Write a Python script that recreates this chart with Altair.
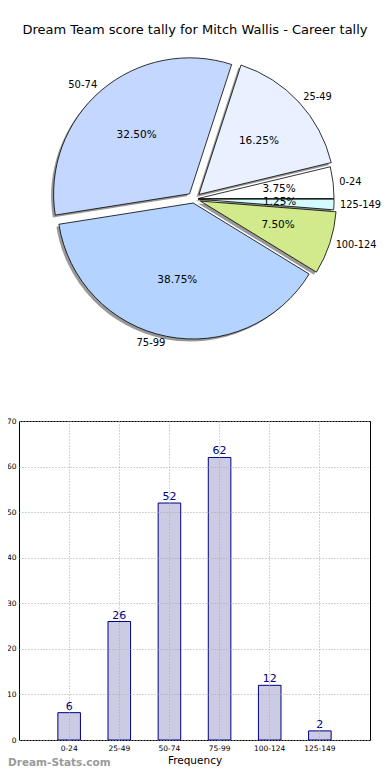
import altair as alt
import pandas as pd

# ---- data ----
categories = ["0-24", "25-49", "50-74", "75-99", "100-124", "125-149"]
counts = [6, 26, 52, 62, 12, 2]
pie_colors = ["#ffffff", "#e9f0ff", "#c4d7ff", "#b4d4ff", "#d0ea8c", "#d4fbff"]
explode = [0.03, 0.05, 0.05, 0.03, 0.05, 0.03]
y_ticks = [0, 10, 20, 30, 40, 50, 60, 70]
title_text = "Dream Team score tally for Mitch Wallis - Career tally"
x_title = "Frequency"
watermark = "Dream-Stats.com"

FONT = "DejaVu Sans"

pie_df = pd.DataFrame({
    "cat": categories,
    "n": counts,
    "color": pie_colors,
    "explode": explode,
    "order": list(range(len(categories))),
})

# pie geometry in pixels, relative to the bar plot's origin
CX, CY, R, RY = 175, -222, 136, 130
LBL_X, LBL_Y = 1.045 * R, 1.1 * RY

base = (
    alt.Chart(pie_df)
    .transform_joinaggregate(total="sum(n)")
    .transform_window(cum="sum(n)", sort=[alt.SortField("order")], frame=[None, 0])
    .transform_calculate(
        a1="360*(datum.cum-datum.n)/datum.total",
        a2="360*datum.cum/datum.total",
    )
    .transform_calculate(
        mid="(datum.a1+datum.a2)/2*PI/180",
        th="(90-datum.a2)*PI/180",
        th2="(90-datum.a1)*PI/180",
        pct="format(100*datum.n/datum.total, '.2f') + '%'",
    )
    .transform_calculate(
        cx=f"{CX}+datum.explode*{R}*cos(datum.mid)",
        cy=f"{CY}-datum.explode*{R}*sin(datum.mid)",
    )
    .transform_calculate(
        sx="datum.cx-2.5",
        sy="datum.cy+2.5",
        lx=f"datum.cx+{LBL_X}*cos(datum.mid)",
        ly=f"datum.cy-{LBL_Y}*sin(datum.mid)",
        px=f"datum.cx+0.6*{R}*cos(datum.mid)",
        py=f"datum.cy-0.6*{RY}*sin(datum.mid)",
    )
)

shadow = base.mark_arc(radius=R, fill="#000000", opacity=0.4).encode(
    theta=alt.Theta("th:Q", scale=None),
    theta2="th2:Q",
    x=alt.X("sx:Q", scale=None, axis=None),
    y=alt.Y("sy:Q", scale=None, axis=None),
)

wedges = base.mark_arc(radius=R, stroke="black", strokeWidth=0.8).encode(
    theta=alt.Theta("th:Q", scale=None),
    theta2="th2:Q",
    x=alt.X("cx:Q", scale=None, axis=None),
    y=alt.Y("cy:Q", scale=None, axis=None),
    fill=alt.Fill("color:N", scale=None),
)

labels_left = base.transform_filter("cos(datum.mid) < 0").mark_text(
    align="right", baseline="middle", fontSize=10, font=FONT, color="black"
).encode(
    x=alt.X("lx:Q", scale=None, axis=None),
    y=alt.Y("ly:Q", scale=None, axis=None),
    text="cat:N",
)

labels_right = base.transform_filter("cos(datum.mid) >= 0").mark_text(
    align="left", baseline="middle", fontSize=9.8, font=FONT, color="black"
).encode(
    x=alt.X("lx:Q", scale=None, axis=None),
    y=alt.Y("ly:Q", scale=None, axis=None),
    text="cat:N",
)

pct_labels = base.mark_text(
    align="center", baseline="middle", fontSize=10.5, font=FONT, color="black"
).encode(
    x=alt.X("px:Q", scale=None, axis=None),
    y=alt.Y("py:Q", scale=None, axis=None),
    text="pct:N",
)

title = alt.Chart(pd.DataFrame({"t": [title_text]})).mark_text(
    align="center", baseline="middle", fontSize=13, font=FONT, color="black"
).encode(x=alt.value(176), y=alt.value(-391), text="t:N")

pie_layer = alt.layer(shadow, wedges, pct_labels, labels_left, labels_right, title)

# ---- bar chart ----
bar_df = pd.DataFrame({"cat": categories, "n": counts})

x_scale = alt.Scale(paddingInner=0.55, paddingOuter=0.775)
y_scale = alt.Scale(domain=[0, 70], nice=False)

x_enc = alt.X(
    "cat:N",
    sort=categories,
    scale=x_scale,
    axis=alt.Axis(
        orient="bottom", title=x_title, labelAngle=0, labelFontSize=7.5, labelFont=FONT,
        labelColor="black", labelPadding=4, ticks=False, tickSize=0, domain=False,
        grid=True, gridDash=[1, 2], gridColor="#a8a8a8", bandPosition=0.5,
        titleFontSize=10.5, titleFontWeight="normal", titleColor="black", titleFont=FONT,
        titlePadding=4, zindex=1,
    ),
)
y_enc = alt.Y(
    "n:Q",
    scale=y_scale,
    axis=alt.Axis(
        orient="left", values=y_ticks, title=None, labelFontSize=7.5, labelFont=FONT,
        labelColor="black", labelPadding=3, ticks=False, tickSize=0, domain=False,
        grid=True, gridDash=[1, 2], gridColor="#a8a8a8", zindex=1,
    ),
)

bars = alt.Chart(bar_df).mark_bar(fill="#cbcbe3", stroke="#000080", strokeWidth=1).encode(
    x=x_enc, y=y_enc
)
bar_text = alt.Chart(bar_df).mark_text(
    color="#000080", fontSize=11, font=FONT, baseline="bottom", dy=-1
).encode(x=alt.X("cat:N", sort=categories), y="n:Q", text="n:Q")

mark = alt.Chart(pd.DataFrame({"w": [watermark]})).mark_text(
    align="left", baseline="middle", fontSize=10.5, font=FONT, fontWeight="bold", color="#9a9a9a"
).encode(x=alt.value(-11), y=alt.value(342), text="w:N")

bar_layer = alt.layer(bars, bar_text, mark)

chart = (
    alt.layer(bar_layer, pie_layer)
    .resolve_scale(x="independent", y="independent")
    .properties(
        width=351,
        height=319,
        autosize=alt.AutoSizeParams(type="none"),
        padding={"left": 11, "top": 413, "right": 12, "bottom": 32},
    )
    .configure(font=FONT)
    .configure_view(stroke="black", strokeWidth=1)
)

chart.save("out.html", embed_options={"renderer": "svg", "actions": False})
